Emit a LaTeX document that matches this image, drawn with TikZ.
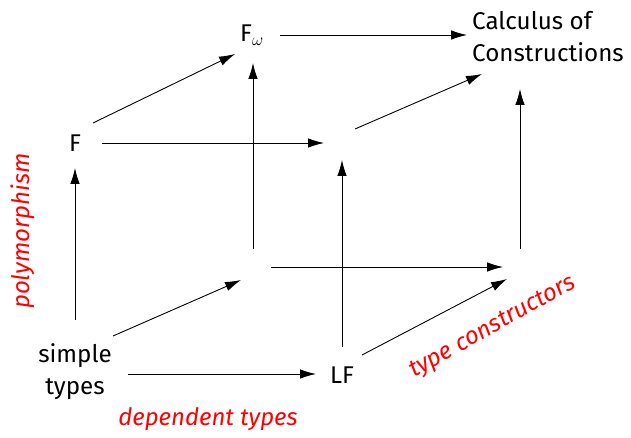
\documentclass[tikz,border=0pt]{standalone}
\usepackage{fontspec}
\setmainfont{Fira Sans}
\usetikzlibrary{arrows.meta}
\tikzset{
  arr/.style={-{Latex[length=16pt,width=9.5pt]}, line width=0.9pt, black},
  lbl/.style={inner sep=0pt, font=\fontsize{24.2}{32}\selectfont},
  axis/.style={inner sep=0pt, text=red, font=\fontsize{24}{31}\selectfont\itshape},
}
\begin{document}
\begin{tikzpicture}[x=1pt,y=-1pt]
\useasboundingbox (0,0) rectangle (631,438);
% nodes
\node[lbl, align=center] (S) at (75,372) {simple\\types};
\node[lbl] (F) at (75,143) {F};
\node[lbl] (Fw) at (252,35) {F$_\omega$};
\node[lbl, align=left, anchor=west] (C) at (472,37) {Calculus of\\Constructions};
\node[lbl] (LF) at (342,375) {LF};
\node[inner sep=0pt] (B) at (253,267) {};
\node[inner sep=0pt] (M) at (342,143) {};
\node[inner sep=0pt] (R) at (520,267) {};
% arrows
\draw[arr] ([shift={(0,-52)}]S.center) -- ([shift={(0,25)}]F.center);
\draw[arr] ([shift={(53,2)}]S.center) -- ([shift={(-26,-1)}]LF.center);
\draw[arr] ([shift={(38,-36)}]S.center) -- ([shift={(-12,13)}]B.center);
\draw[arr] ([shift={(18,-20)}]F.center) -- ([shift={(-17,19)}]Fw.center);
\draw[arr] ([shift={(27,0)}]F.center) -- ([shift={(-18,0)}]M.center);
\draw[arr] ([shift={(28,0)}]Fw.center) -- ([shift={(-5,-2)}]C.west);
\draw[arr] ([shift={(0,-18)}]B.center) -- ([shift={(1,28)}]Fw.center);
\draw[arr] ([shift={(18,0)}]B.center) -- ([shift={(-17,0)}]R.center);
\draw[arr] ([shift={(0,-28)}]LF.center) -- ([shift={(0,17)}]M.center);
\draw[arr] ([shift={(20,-20)}]LF.center) -- ([shift={(-13,12)}]R.center);
\draw[arr] ([shift={(13,-14)}]M.center) -- ([shift={(10,37)}]C.west);
\draw[arr] ([shift={(0,-18)}]R.center) -- ([shift={(48,52)}]C.west);
% axis labels
\node[axis, rotate=90, anchor=base west] (P) at (29,309) {polymorphism};
\node[axis, anchor=base] (D) at (208,425) {dependent types};
\node[axis, rotate=29.2, anchor=base west] (T) at (414,378) {type constructors};
\end{tikzpicture}
\end{document}
